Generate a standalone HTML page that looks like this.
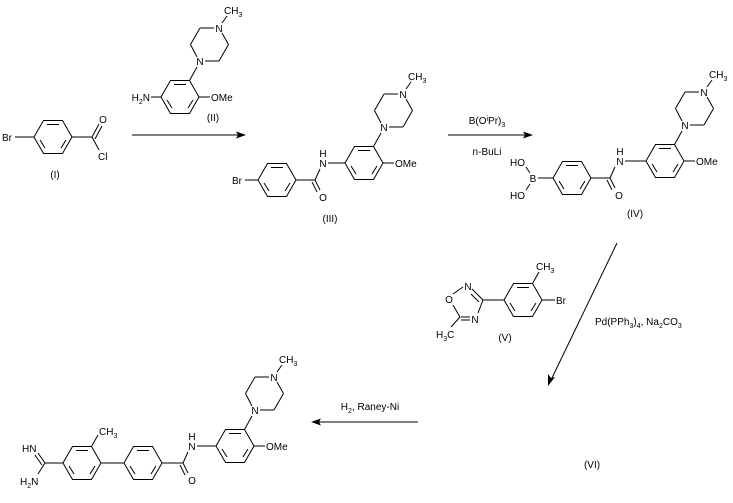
<!DOCTYPE html>
<html><head><meta charset="utf-8"><style>
html,body{margin:0;padding:0;background:#fff;}
svg{display:block;}
text{font-family:"Liberation Sans",sans-serif;font-size:10px;fill:#000;}
.s{font-size:7px;}
</style></head><body>
<svg width="733" height="503" viewBox="0 0 733 503" xmlns="http://www.w3.org/2000/svg">
<defs>
<g id="ring" fill="none" stroke="#000" stroke-width="1">
<polygon points="-19,0 -9.5,-16.5 9.5,-16.5 19,0 9.5,16.5 -9.5,16.5"/>
<line x1="-6" y1="-12.5" x2="6" y2="-12.5"/>
<line x1="13" y1="3" x2="8" y2="11"/>
<line x1="-8" y1="11" x2="-13" y2="3"/>
</g>
<g id="amg" fill="none" stroke="#000" stroke-width="1">
<use href="#ring"/>
<line x1="9.5" y1="-16.5" x2="17" y2="-30"/>
<line x1="17" y1="-40" x2="10.5" y2="-52.5"/>
<line x1="10.5" y1="-52.5" x2="20" y2="-69"/>
<line x1="20" y1="-69" x2="34" y2="-69"/>
<line x1="42" y1="-64" x2="48.5" y2="-52.5"/>
<line x1="48.5" y1="-52.5" x2="39" y2="-36"/>
<line x1="39" y1="-36" x2="25" y2="-36"/>
<line x1="42" y1="-74" x2="47" y2="-81"/>
<line x1="19" y1="0" x2="30" y2="0"/>
</g>
</defs>
<g stroke="#000" stroke-width="1" fill="none">
<!-- I -->
<use href="#ring" x="53" y="137"/>
<line x1="15" y1="137" x2="34" y2="137"/>
<line x1="72" y1="137" x2="92" y2="137"/>
<line x1="92" y1="137" x2="99" y2="124"/>
<line x1="95" y1="139" x2="102" y2="126"/>
<line x1="92" y1="137" x2="99" y2="150"/>
<!-- II -->
<use href="#amg" x="180" y="97"/>
<line x1="151" y1="97" x2="161" y2="97"/>
<!-- arrow1 -->
<line x1="132" y1="135" x2="240" y2="135"/>
<!-- III -->
<use href="#ring" x="277" y="180"/>
<line x1="245" y1="180" x2="258" y2="180"/>
<line x1="296" y1="180" x2="315" y2="180"/>
<line x1="315" y1="180" x2="320" y2="190"/>
<line x1="312" y1="182" x2="317" y2="192"/>
<line x1="315" y1="180" x2="320" y2="169"/>
<line x1="328" y1="163" x2="345" y2="163"/>
<use href="#amg" x="364" y="163"/>
<!-- arrow2 -->
<line x1="448" y1="135" x2="527" y2="135"/>
<!-- IV -->
<line x1="538" y1="178" x2="553" y2="178"/>
<line x1="530" y1="173" x2="526" y2="167"/>
<line x1="530" y1="184" x2="526" y2="190"/>
<use href="#ring" x="572" y="178"/>
<line x1="591" y1="178" x2="610" y2="178"/>
<line x1="610" y1="178" x2="615" y2="188"/>
<line x1="607" y1="180" x2="612" y2="190"/>
<line x1="610" y1="178" x2="615" y2="167"/>
<line x1="625" y1="161" x2="646" y2="161"/>
<use href="#amg" x="665" y="161"/>
<!-- Pd arrow -->
<line x1="617" y1="243" x2="551" y2="380"/>
<!-- V -->
<line x1="453" y1="294" x2="463" y2="287"/>
<line x1="472" y1="289" x2="483" y2="300"/>
<line x1="471" y1="294" x2="479" y2="302"/>
<line x1="483" y1="300" x2="478" y2="313"/>
<line x1="470" y1="317" x2="461" y2="317"/>
<line x1="470" y1="320" x2="461" y2="320"/>
<line x1="460" y1="317" x2="453" y2="305"/>
<line x1="460" y1="317" x2="451" y2="327"/>
<line x1="483" y1="300" x2="504" y2="300"/>
<use href="#ring" x="523" y="300"/>
<line x1="532.5" y1="283.5" x2="539" y2="272"/>
<line x1="542" y1="300" x2="555" y2="300"/>
<!-- arrow4 -->
<line x1="418" y1="422" x2="317" y2="422"/>
<!-- final -->
<line x1="45" y1="463" x2="63" y2="463"/>
<line x1="45" y1="463" x2="38" y2="453"/>
<line x1="42" y1="465" x2="35" y2="455"/>
<line x1="45" y1="463" x2="38" y2="474"/>
<use href="#ring" x="82" y="463"/>
<line x1="91.5" y1="446.5" x2="98" y2="435"/>
<line x1="101" y1="463" x2="124" y2="463"/>
<use href="#ring" x="143" y="463"/>
<line x1="162" y1="463" x2="183" y2="463"/>
<line x1="183" y1="463" x2="188" y2="473"/>
<line x1="180" y1="465" x2="185" y2="475"/>
<line x1="183" y1="463" x2="188" y2="452"/>
<line x1="197" y1="446" x2="216" y2="446"/>
<use href="#amg" x="235" y="446"/>
</g>
<g fill="#000">
<polygon points="246,135 236,131.5 238,135 236,138.5"/>
<polygon points="533,135 523,131.5 525,135 523,138.5"/>
<polygon points="548,386 548,374 551,378 555,377"/>
<polygon points="311,422 321,418.5 319,422 321,425.5"/>
</g>
<!-- texts -->
<text x="2" y="141">Br</text>
<text x="103" y="123" text-anchor="middle">O</text>
<text x="98" y="160">Cl</text>
<text x="55" y="178" text-anchor="middle">(I)</text>
<text x="150" y="101" text-anchor="end">H<tspan class="s" dy="3">2</tspan><tspan dy="-3">N</tspan></text>
<g transform="translate(180,97)"><text x="20" y="-32" text-anchor="middle">N</text><text x="39" y="-65" text-anchor="middle">N</text><text x="44" y="-83">CH<tspan class="s" dy="3">3</tspan></text><text x="31" y="4">OMe</text></g>
<text x="213" y="121" text-anchor="middle">(II)</text>
<text x="232" y="184">Br</text>
<text x="323" y="201" text-anchor="middle">O</text>
<text x="323" y="167" text-anchor="middle">N</text><text x="323" y="157" text-anchor="middle">H</text>
<g transform="translate(364,163)"><text x="20" y="-32" text-anchor="middle">N</text><text x="39" y="-65" text-anchor="middle">N</text><text x="44" y="-83">CH<tspan class="s" dy="3">3</tspan></text><text x="31" y="4">OMe</text></g>
<text x="330" y="222" text-anchor="middle">(III)</text>
<text x="487" y="124" text-anchor="middle">B(O<tspan class="s" dy="-3">i</tspan><tspan dy="3">Pr)</tspan><tspan class="s" dy="3">3</tspan></text>
<text x="487" y="155" text-anchor="middle">n-BuLi</text>
<text x="533" y="182" text-anchor="middle">B</text>
<text x="525" y="166" text-anchor="end">HO</text>
<text x="525" y="199" text-anchor="end">HO</text>
<text x="619" y="199" text-anchor="middle">O</text>
<text x="620" y="165" text-anchor="middle">N</text><text x="620" y="155" text-anchor="middle">H</text>
<g transform="translate(665,161)"><text x="20" y="-32" text-anchor="middle">N</text><text x="39" y="-65" text-anchor="middle">N</text><text x="44" y="-83">CH<tspan class="s" dy="3">3</tspan></text><text x="31" y="4">OMe</text></g>
<text x="635" y="217" text-anchor="middle">(IV)</text>
<text x="595" y="325">Pd(PPh<tspan class="s" dy="3">3</tspan><tspan dy="-3">)</tspan><tspan class="s" dy="3">4</tspan><tspan dy="-3">, Na</tspan><tspan class="s" dy="3">2</tspan><tspan dy="-3">CO</tspan><tspan class="s" dy="3">3</tspan></text>
<text x="449" y="303" text-anchor="middle">O</text>
<text x="468" y="290" text-anchor="middle">N</text>
<text x="475" y="323" text-anchor="middle">N</text>
<text x="436" y="338">H<tspan class="s" dy="3">3</tspan><tspan dy="-3">C</tspan></text>
<text x="536" y="270">CH<tspan class="s" dy="3">3</tspan></text>
<text x="556" y="304">Br</text>
<text x="505" y="341" text-anchor="middle">(V)</text>
<text x="370" y="410" text-anchor="middle">H<tspan class="s" dy="3">2</tspan><tspan dy="-3">, Raney-Ni</tspan></text>
<text x="592" y="468" text-anchor="middle">(VI)</text>
<text x="22" y="452">HN</text>
<text x="20" y="485">H<tspan class="s" dy="3">2</tspan><tspan dy="-3">N</tspan></text>
<text x="99" y="435">CH<tspan class="s" dy="3">3</tspan></text>
<text x="192" y="484" text-anchor="middle">O</text>
<text x="192" y="450" text-anchor="middle">N</text><text x="192" y="440" text-anchor="middle">H</text>
<g transform="translate(235,446)"><text x="20" y="-32" text-anchor="middle">N</text><text x="39" y="-65" text-anchor="middle">N</text><text x="44" y="-83">CH<tspan class="s" dy="3">3</tspan></text><text x="31" y="4">OMe</text></g>
</svg>
</body></html>
